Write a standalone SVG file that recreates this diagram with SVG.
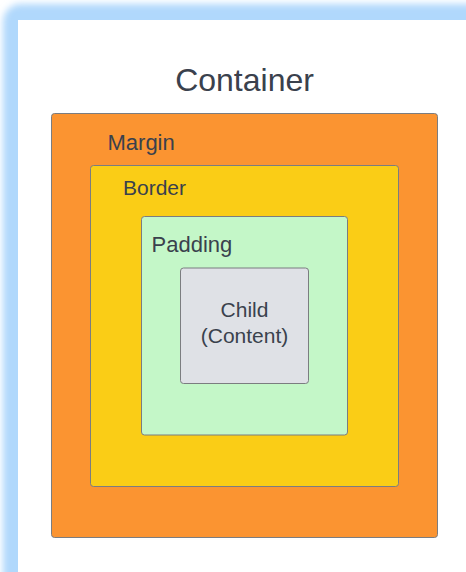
<svg xmlns="http://www.w3.org/2000/svg" width="466" height="572" viewBox="0 0 466 572">
<defs>
<filter id="blur" x="-10%" y="-10%" width="120%" height="120%"><feGaussianBlur stdDeviation="3.5"/></filter>
<style>
.box{stroke:#7b7d80;stroke-width:1}
.lbl{font-family:"Liberation Sans",Arial,sans-serif;fill:#3a414d}
</style>
</defs>
<rect x="0" y="0" width="466" height="572" fill="#ffffff"/>
<rect x="3" y="4" width="500" height="600" rx="18" fill="#b0d8fc" filter="url(#blur)"/>
<rect x="18" y="20" width="460" height="560" fill="#ffffff"/>
<text class="lbl" x="244.5" y="90.5" font-size="32" text-anchor="middle">Container</text>
<g id="margin">
<rect class="box" x="51.5" y="113.5" width="386" height="424" rx="3" fill="#fb9431"/>
<text class="lbl" x="107.5" y="150" font-size="22">Margin</text>
</g>
<g id="border">
<rect class="box" x="90.5" y="165.5" width="308" height="321" rx="3" fill="#facd16"/>
<text class="lbl" x="123" y="195" font-size="21">Border</text>
</g>
<g id="padding">
<rect class="box" x="141.5" y="216.5" width="206" height="218.5" rx="3" fill="#c4f7c8"/>
<text class="lbl" x="151.5" y="252" font-size="22">Padding</text>
</g>
<g id="child">
<rect class="box" x="180.5" y="268" width="128" height="115.5" rx="3" fill="#dfe1e6"/>
<text class="lbl" x="244.5" y="317" font-size="21" text-anchor="middle">Child</text>
<text class="lbl" x="244.5" y="343" font-size="21" text-anchor="middle">(Content)</text>
</g>
<g id="connectors"/>
</svg>
